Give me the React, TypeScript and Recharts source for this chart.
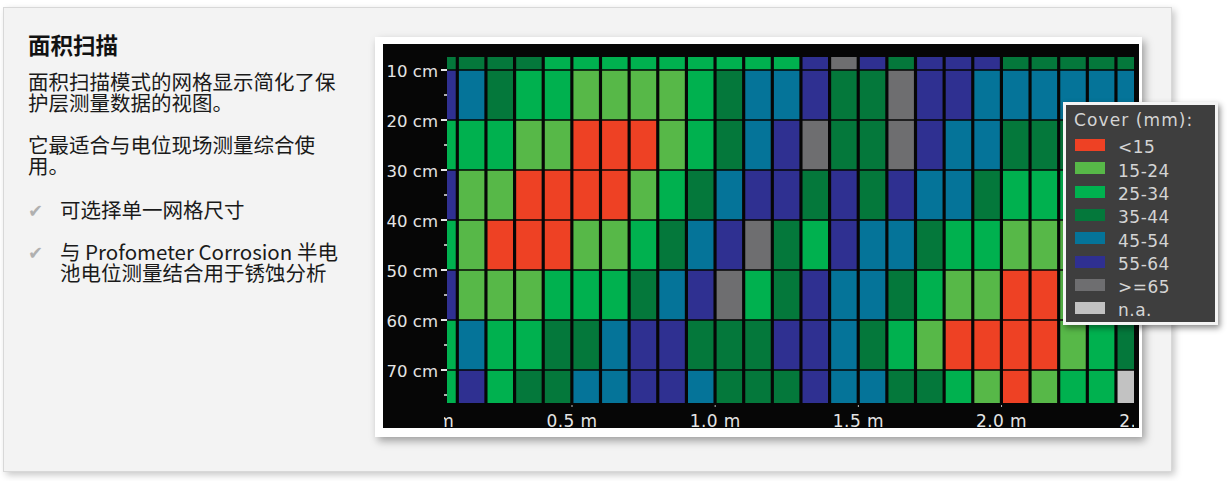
import { ComposedChart, XAxis, YAxis, ReferenceArea } from 'recharts';

type Code = 'R' | 'L' | 'G' | 'D' | 'T' | 'I' | 'X' | 'N';

// cover classes (legend order)
const COVER_CODES: Code[] = ['R', 'L', 'G', 'D', 'T', 'I', 'X', 'N'];
const COVER_LABELS = ['<15', '15-24', '25-34', '35-44', '45-54', '55-64', '>=65', 'n.a.'];
const COVER_COLORS = ['#ee4124', '#57b848', '#00b14f', '#04783b', '#057499', '#2f3091', '#6e6e70', '#c2c2c2'];

// grid: column start (m) and row start (cm)
const COLUMN_STARTS = [0, 0.1, 0.2, 0.3, 0.4, 0.5, 0.6, 0.7, 0.8, 0.9, 1.0, 1.1, 1.2, 1.3, 1.4, 1.5, 1.6, 1.7, 1.8, 1.9, 2.0, 2.1, 2.2, 2.3, 2.4];
const DEPTH_STARTS = [0, 10, 20, 30, 40, 50, 60, 70];

// one cover class per cell, left to right
const ROW_0 = 'DDDDGGGGGGGGGIXIDIIIDDDDD'.split('') as Code[];
const ROW_10 = 'ITDGGLLLLGDTTIDDXIITTTTTT'.split('') as Code[];
const ROW_20 = 'GGGLLRRRLGDTIXDDXITTDDDDD'.split('') as Code[];
const ROW_30 = 'ILLRRRRLGDTIIDIDITTDGGGGG'.split('') as Code[];
const ROW_40 = 'GLRRRLLGDTIXDGITTDGGLLLLG'.split('') as Code[];
const ROW_50 = 'ILLLGGGDTIXGDITTDGLLRRLLG'.split('') as Code[];
const ROW_60 = 'GTGGDDTIIDDDIITDGLRRRRLGD'.split('') as Code[];
const ROW_70 = 'GIGDDTTIITDDDITTDDGLRLGGN'.split('') as Code[];
const ROWS = [ROW_0, ROW_10, ROW_20, ROW_30, ROW_40, ROW_50, ROW_60, ROW_70];

const X_TICKS = [0, 0.5, 1.0, 1.5, 2.0, 2.5];
const Y_TICKS = [10, 15, 20, 25, 30, 35, 40, 45, 50, 55, 60, 65, 70, 75];
const X_DOMAIN: [number, number] = [0.0635, 2.4625];
const Y_DOMAIN: [number, number] = [7.4, 76.6];

const AXIS_FONT = '"DejaVu Sans", Verdana, sans-serif';
const TEXT_FONT = '"Noto Sans CJK SC", "Noto Sans", sans-serif';

function colorOf(code: Code) {
  return COVER_COLORS[COVER_CODES.indexOf(code)];
}

function YTick(props: any) {
  const { x, y, payload } = props;
  const major = payload.value % 10 === 0;
  return (
    <g>
      <line x1={x + (major ? 3 : 6)} x2={x + 9} y1={y} y2={y} stroke="#e8e8e8" strokeWidth={major ? 2 : 1.5} />
      {major && (
        <text x={x} y={y} dy={7} textAnchor="end" fill="#e4e4e4" fontSize={16.5} fontFamily={AXIS_FONT}>
          {`${payload.value} cm`}
        </text>
      )}
    </g>
  );
}

function XTick(props: any) {
  const { x, y, payload } = props;
  return (
    <g clipPath="url(#xLabelClip)">
      <line x1={x} x2={x} y1={y + 2} y2={y + 4} stroke="#bbbbbb" strokeWidth={1} />
      <text x={x} y={y} dy={23.5} textAnchor="middle" fill="#e4e4e4" fontSize={17} letterSpacing={0.4} fontFamily={AXIS_FONT}>
        {`${payload.value.toFixed(1)} m`}
      </text>
    </g>
  );
}

function CoverGrid() {
  const cells: any[] = [];
  ROWS.forEach((row, r) => {
    row.forEach((code, c) => {
      const col = COLUMN_STARTS[c];
      const depth = DEPTH_STARTS[r];
      cells.push(
        <ReferenceArea
          key={`${r}-${c}`}
          x1={Math.max(col + 0.005, X_DOMAIN[0])}
          x2={Math.min(col + 0.094, X_DOMAIN[1])}
          y1={Math.max(depth + 0.15, Y_DOMAIN[0])}
          y2={Math.min(depth + 9.85, Y_DOMAIN[1])}
          fill={colorOf(code)}
          fillOpacity={1}
          stroke="none"
          ifOverflow="visible"
        />
      );
    });
  });

  return (
    <ComposedChart width={756} height={384} margin={{ top: 13, right: 5, bottom: 0, left: 0 }}>
      <defs>
        <clipPath id="xLabelClip">
          <rect x={61} y={0} width={690} height={384} />
        </clipPath>
      </defs>
      <XAxis
        type="number"
        dataKey="x"
        domain={X_DOMAIN}
        allowDataOverflow
        ticks={X_TICKS}
        interval={0}
        height={25}
        axisLine={false}
        tickLine={false}
        tickSize={0}
        tickMargin={0}
        tick={<XTick />}
      />
      <YAxis
        type="number"
        dataKey="y"
        domain={Y_DOMAIN}
        reversed
        allowDataOverflow
        ticks={Y_TICKS}
        interval={0}
        width={64}
        axisLine={false}
        tickLine={false}
        tickSize={0}
        tickMargin={9}
        tick={<YTick />}
      />
      {cells}
    </ComposedChart>
  );
}

function CoverLegend() {
  return (
    <div
      style={{
        position: 'absolute',
        left: 1063,
        top: 102,
        width: 155,
        height: 223,
        boxSizing: 'border-box',
        border: '3px solid #f4f4f4',
        background: '#3e3e3e',
        boxShadow: '2px 3px 6px rgba(0,0,0,0.45)',
        fontFamily: AXIS_FONT,
        color: '#d4d4d4',
      }}
    >
      <div style={{ position: 'absolute', left: 8, top: 7, fontSize: 17, lineHeight: '17px', letterSpacing: 1.1, whiteSpace: 'nowrap' }}>
        Cover (mm):
      </div>
      {COVER_LABELS.map((label, i) => (
        <div key={label}>
          <div
            style={{
              position: 'absolute',
              left: 9,
              top: 34 + 23.3 * i,
              width: 30,
              height: 12,
              background: COVER_COLORS[i],
            }}
          />
          <div
            style={{
              position: 'absolute',
              left: 52,
              top: 34.3 + 23.3 * i,
              fontSize: 17,
              lineHeight: '17px',
              letterSpacing: 0.5,
              whiteSpace: 'nowrap',
            }}
          >
            {label}
          </div>
        </div>
      ))}
    </div>
  );
}

const check = (
  <span style={{ position: 'absolute', left: -32, top: 1, fontFamily: AXIS_FONT, fontSize: 18, lineHeight: '21px', color: '#b0b0b0' }}>✔</span>
);

const bodyText = { fontSize: 20.5, lineHeight: '21px', color: '#1a1a1a', whiteSpace: 'nowrap' as const };

export default function App() {
  return (
    <div
      style={{
        position: 'absolute',
        left: 0,
        top: 0,
        width: 1228,
        height: 481,
        background: '#ffffff',
        overflow: 'hidden',
        fontFamily: TEXT_FONT,
      }}
    >
      <div
        style={{
          position: 'absolute',
          left: 3,
          top: 7,
          width: 1169,
          height: 465,
          boxSizing: 'border-box',
          background: '#f3f3f3',
          border: '1px solid #d8d8d8',
          boxShadow: '3px 3px 7px rgba(0,0,0,0.22)',
        }}
      />
      <div style={{ position: 'absolute', left: 28, top: 31.7, fontSize: 22.5, lineHeight: '24px', fontWeight: 700, color: '#111' }}>
        面积扫描
      </div>
      <div style={{ position: 'absolute', left: 28, top: 71.4, ...bodyText }}>
        面积扫描模式的网格显示简化了保
        <br />
        护层测量数据的视图。
      </div>
      <div style={{ position: 'absolute', left: 28, top: 134.4, ...bodyText }}>
        它最适合与电位现场测量综合使
        <br />
        用。
      </div>
      <div style={{ position: 'absolute', left: 60, top: 199.4, ...bodyText }}>
        {check}
        可选择单一网格尺寸
      </div>
      <div style={{ position: 'absolute', left: 60, top: 241.4, ...bodyText }}>
        {check}
        与 Profometer Corrosion 半电
        <br />
        池电位测量结合用于锈蚀分析
      </div>

      <div
        style={{
          position: 'absolute',
          left: 375,
          top: 37,
          width: 767,
          height: 400,
          background: '#ffffff',
          boxShadow: '3px 4px 8px rgba(0,0,0,0.35)',
        }}
      >
        <div style={{ position: 'absolute', left: 8, top: 7, width: 756, height: 384, background: '#060606' }}>
          <CoverGrid />
        </div>
      </div>
      <CoverLegend />
    </div>
  );
}
